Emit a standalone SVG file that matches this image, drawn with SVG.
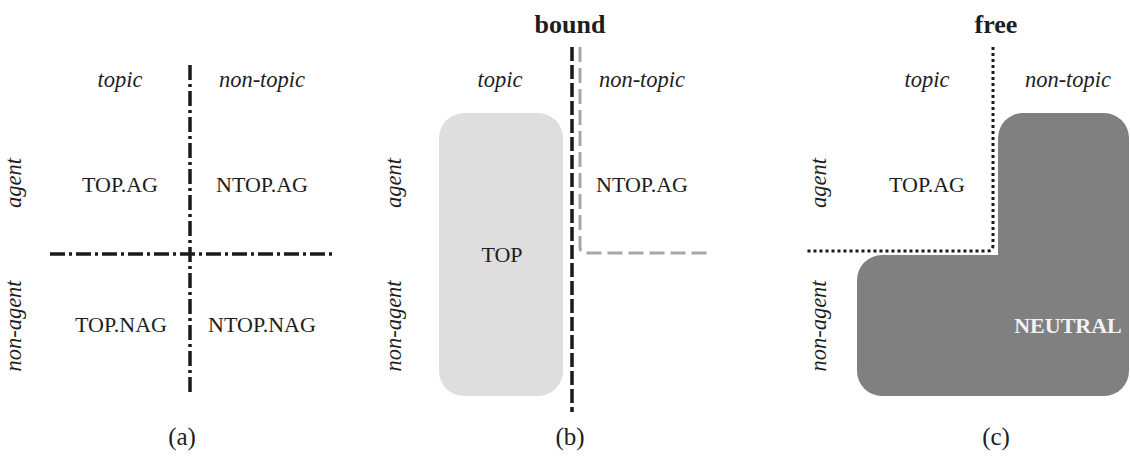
<svg xmlns="http://www.w3.org/2000/svg" width="1130" height="457" viewBox="0 0 1130 457">
<style>
text{font-family:"Liberation Serif","Times New Roman",serif;fill:#1e1e1e;text-anchor:middle}
.t{font-size:22px}
.i{font-size:22.5px;font-style:italic}
.h{font-size:26px;font-weight:bold}
.cap{font-size:25px}
.dd{fill:none;stroke:#1a1a1a;stroke-width:3.5;stroke-dasharray:15 4 3 4}
.bd{fill:none;stroke:#1a1a1a;stroke-width:3.5;stroke-dasharray:14 4}
.gd{fill:none;stroke:#a8a8a8;stroke-width:3;stroke-dasharray:15 6}
.dt{fill:none;stroke:#1a1a1a;stroke-width:3;stroke-dasharray:3 3}
</style>
<rect width="1130" height="457" fill="#fff"/>
<g id="panel-a">
<g id="connectors-a">
<path class="dd" d="M190 65V395"/>
<path class="dd" d="M50 254H333"/>
</g>
<g id="a-topic"><text class="i" x="120" y="87">topic</text></g>
<g id="a-nontopic"><text class="i" x="262" y="87">non-topic</text></g>
<g id="a-agent"><text class="i" transform="translate(21 183) rotate(-90)">agent</text></g>
<g id="a-nonagent"><text class="i" transform="translate(21 326) rotate(-90)">non-agent</text></g>
<g id="a-topag"><text class="t" x="120" y="192">TOP.AG</text></g>
<g id="a-ntopag"><text class="t" x="262" y="192">NTOP.AG</text></g>
<g id="a-topnag"><text class="t" x="121" y="332">TOP.NAG</text></g>
<g id="a-ntopnag"><text class="t" x="262" y="332">NTOP.NAG</text></g>
<g id="a-label"><text class="cap" x="182" y="445">(a)</text></g>
</g>
<g id="panel-b">
<g id="b-top"><rect x="439" y="113" width="124" height="283" rx="25" fill="#dedede"/><text class="t" x="502" y="262">TOP</text></g>
<g id="connectors-b">
<path class="bd" d="M572 47V412"/>
<path class="gd" d="M580 47V247Q580 253 586 253H712"/>
</g>
<g id="b-bound"><text class="h" x="570" y="33">bound</text></g>
<g id="b-topic"><text class="i" x="500" y="87">topic</text></g>
<g id="b-nontopic"><text class="i" x="642" y="87">non-topic</text></g>
<g id="b-agent"><text class="i" transform="translate(401 183) rotate(-90)">agent</text></g>
<g id="b-nonagent"><text class="i" transform="translate(401 326) rotate(-90)">non-agent</text></g>
<g id="b-ntopag"><text class="t" x="642" y="192">NTOP.AG</text></g>
<g id="b-label"><text class="cap" x="570" y="445">(b)</text></g>
</g>
<g id="panel-c">
<g id="c-neutral"><path fill="#808080" d="M1023 113H1104A25 25 0 0 1 1129 138V371A25 25 0 0 1 1104 396H882A25 25 0 0 1 857 371V280A25 25 0 0 1 882 255H998V138A25 25 0 0 1 1023 113Z"/><text class="t" x="1068" y="333" style="fill:#f2f2f2;font-weight:bold">NEUTRAL</text></g>
<g id="connectors-c">
<path class="dt" d="M993 47V245Q993 251 987 251H805"/>
</g>
<g id="c-free"><text class="h" x="996" y="33">free</text></g>
<g id="c-topic"><text class="i" x="927" y="87">topic</text></g>
<g id="c-nontopic"><text class="i" x="1068" y="87">non-topic</text></g>
<g id="c-agent"><text class="i" transform="translate(826 183) rotate(-90)">agent</text></g>
<g id="c-nonagent"><text class="i" transform="translate(826 326) rotate(-90)">non-agent</text></g>
<g id="c-topag"><text class="t" x="927" y="192">TOP.AG</text></g>
<g id="c-label"><text class="cap" x="996" y="445">(c)</text></g>
</g>
</svg>
